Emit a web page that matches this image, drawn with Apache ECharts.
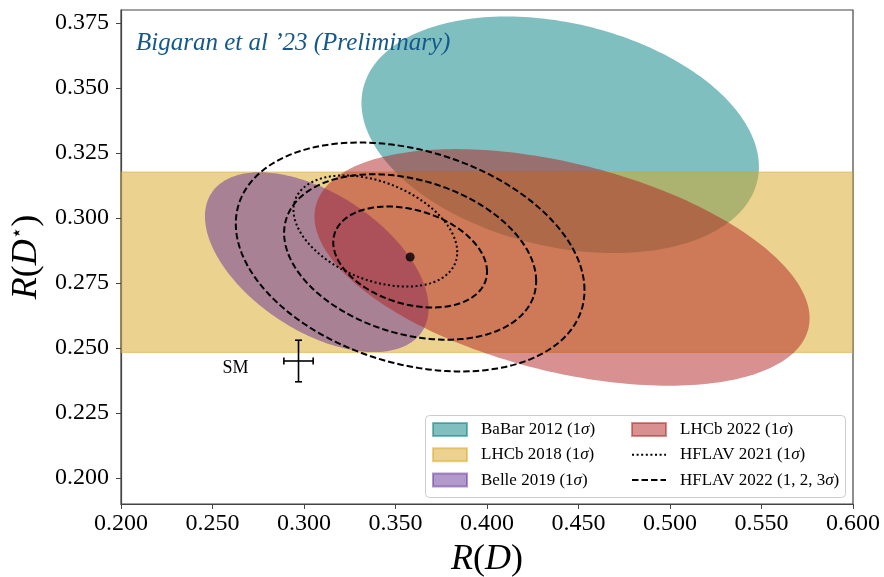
<!DOCTYPE html>
<html>
<head>
<meta charset="utf-8">
<script src="https://cdn.jsdelivr.net/npm/echarts@6/dist/echarts.min.js"></script>
<style>
html,body{margin:0;padding:0;background:#fff;}
#chart{width:884px;height:577px;}
</style>
</head>
<body>
<div id="chart"></div>
<script>
// Axis ranges and ticks
const xRange = [0.2, 0.6];
const yRange = [0.19, 0.38];
const xTicks = [0.2, 0.25, 0.3, 0.35, 0.4, 0.45, 0.5, 0.55, 0.6];
const yTicks = [0.2, 0.225, 0.25, 0.275, 0.3, 0.325, 0.35, 0.375];

// Measurements: [R(D), R(D*), sigma R(D), sigma R(D*), correlation]
const babar2012 = [0.440, 0.332, 0.0716, 0.0300, -0.27];
const belle2019 = [0.307, 0.283, 0.0403, 0.0228, -0.51];
const lhcb2022  = [0.441, 0.281, 0.0892, 0.0300, -0.43];
const hflav2021 = [0.339, 0.295, 0.0295, 0.0141, -0.38];
const hflav2022 = [0.358, 0.285, 0.0277, 0.0128, -0.29];
// LHCb 2018 band in R(D*): [low, high]
const lhcb2018Band = [0.2483, 0.3177];
// Standard Model prediction and its errors
const smPoint = [0.297, 0.245];
const smErr = [0.008, 0.008];
// Delta chi^2 levels for 2D contours (1, 2, 3 sigma)
const chi2Levels = [2.30, 6.18, 11.83];

const SERIF = "'Liberation Serif', 'DejaVu Serif', serif";

function ellipseItem(m, level) {
  return [m[0], m[1], m[2], m[3], m[4], Math.sqrt(level)];
}
function ellipsePoints(api) {
  const cx = api.value(0), cy = api.value(1), sx = api.value(2), sy = api.value(3), rho = api.value(4), k = api.value(5);
  const pts = [];
  const N = 240;
  const s = Math.sqrt(1 - rho * rho);
  for (let i = 0; i <= N; i++) {
    const t = 2 * Math.PI * i / N;
    const c = Math.cos(t), sn = Math.sin(t);
    pts.push(api.coord([cx + k * sx * c, cy + k * sy * (rho * c + s * sn)]));
  }
  return pts;
}
function filledEllipse(fill) {
  return function (params, api) {
    return { type: 'polygon', shape: { points: ellipsePoints(api) }, style: { fill: fill, stroke: null } };
  };
}
function contour(dash, width) {
  return function (params, api) {
    return { type: 'polygon', shape: { points: ellipsePoints(api) }, style: { fill: 'none', stroke: '#000', lineWidth: width, lineDash: dash } };
  };
}

const teal = 'rgba(0,128,128,0.5)';
const gold = 'rgba(218,165,32,0.5)';
const purple = 'rgba(102,51,153,0.5)';
const red = 'rgba(178,34,34,0.5)';
const DASH = [6.5, 3];
const DOT = [2, 2.6];

const names = {
  babar: 'BaBar 2012 (1σ)',
  lhcb18: 'LHCb 2018 (1σ)',
  belle: 'Belle 2019 (1σ)',
  lhcb22: 'LHCb 2022 (1σ)',
  hf21: 'HFLAV 2021 (1σ)',
  hf22: 'HFLAV 2022 (1, 2, 3σ)'
};

const legendText = {
  fontFamily: SERIF, fontSize: 17, color: '#000', lineHeight: 17, padding: [0, 0, 0, 9],
  rich: { s: { fontFamily: SERIF, fontSize: 17, fontStyle: 'italic', color: '#000', lineHeight: 17 } }
};
function legendFormatter(name) {
  return name.replace('σ', '{s|σ}');
}

const chart = echarts.init(document.getElementById('chart'), null, { renderer: 'canvas' });
const option = {
  animation: false,
  title: {
    text: 'Bigaran et al ’23 (Preliminary)',
    left: 136, top: 31, padding: 0,
    textStyle: { fontFamily: SERIF, fontStyle: 'italic', fontWeight: 'normal', fontSize: 25, color: '#14588c' }
  },
  graphic: [{
    type: 'rect', left: 425, top: 415, z: 0,
    shape: { width: 420, height: 82, r: 4 },
    style: { fill: 'rgba(255,255,255,0.8)', stroke: '#cccccc', lineWidth: 1 }
  }],
  legend: [{
    orient: 'vertical', left: 432, top: 421, padding: 0, itemGap: 8.3,
    itemWidth: 34, itemHeight: 13, icon: 'rect',
    data: [names.babar, names.lhcb18, names.belle],
    textStyle: legendText, formatter: legendFormatter, selectedMode: false
  }, {
    orient: 'vertical', left: 631, top: 421, padding: 0, itemGap: 8.3,
    itemWidth: 34, itemHeight: 13,
    data: [{ name: names.lhcb22, icon: 'rect' }, names.hf21, names.hf22],
    textStyle: legendText, formatter: legendFormatter, selectedMode: false
  }],
  grid: { left: 121, right: 31, top: 10, bottom: 73, containLabel: false, outerBoundsMode: 'none',
    show: true, borderColor: '#444', borderWidth: 1.2, backgroundColor: 'transparent' },
  xAxis: {
    type: 'value', min: xRange[0], max: xRange[1], interval: 0.05,
    axisLine: { show: true, lineStyle: { color: '#444', width: 1.2 } },
    axisTick: { show: true, length: 5, lineStyle: { color: '#444', width: 1 } },
    splitLine: { show: false },
    axisLabel: { show: true, margin: 8, fontFamily: SERIF, fontSize: 24, color: '#000', showMinLabel: true, showMaxLabel: true,
      formatter: v => v.toFixed(3) },
    name: '{i|R}{p|(}{i|D}{p|)}', nameLocation: 'middle', nameGap: 38,
    nameTextStyle: { rich: { i: { fontFamily: SERIF, fontStyle: 'italic', fontSize: 36, color: '#000' }, p: { fontFamily: SERIF, fontSize: 36, color: '#000' } } }
  },
  yAxis: {
    type: 'value', min: yRange[0], max: yRange[1],
    axisLine: { show: true, lineStyle: { color: '#444', width: 1.2 } },
    axisTick: { show: true, length: 5, customValues: yTicks, lineStyle: { color: '#444', width: 1 } },
    splitLine: { show: false },
    axisLabel: { show: true, margin: 12, fontFamily: SERIF, fontSize: 24, color: '#000', customValues: yTicks,
      formatter: v => v.toFixed(3) },
    name: '{i|R}{p|(}{i|D}{s|⋆}{p|)}', nameLocation: 'middle', nameRotate: 90, nameGap: 73,
    nameTextStyle: { rich: {
      i: { fontFamily: SERIF, fontStyle: 'italic', fontSize: 36, color: '#000' },
      p: { fontFamily: SERIF, fontSize: 36, color: '#000' },
      s: { fontFamily: "'DejaVu Sans', sans-serif", fontSize: 20, color: '#000', padding: [0, 0, 16, 0] }
    } }
  },
  series: [
    { name: names.hf21, type: 'line', data: [], symbol: 'none', itemStyle: { color: 'rgba(0,0,0,0)', borderColor: 'rgba(0,0,0,0)' },
      lineStyle: { color: '#000', width: 2, type: DOT } },
    { name: names.hf22, type: 'line', data: [], symbol: 'none', itemStyle: { color: 'rgba(0,0,0,0)', borderColor: 'rgba(0,0,0,0)' },
      lineStyle: { color: '#000', width: 2, type: DASH } },
    {
      name: names.babar, type: 'custom', renderItem: filledEllipse(teal),
      itemStyle: { color: teal, borderColor: teal, borderWidth: 1.5 },
      encode: { x: 0, y: 1 }, data: [ellipseItem(babar2012, chi2Levels[0])], clip: true, z: 2
    },
    {
      name: names.lhcb18, type: 'custom',
      renderItem: function (params, api) {
        const p1 = api.coord([api.value(0), api.value(3)]);
        const p2 = api.coord([api.value(2), api.value(1)]);
        return { type: 'rect', shape: { x: p1[0], y: p1[1], width: p2[0] - p1[0], height: p2[1] - p1[1] },
          style: { fill: gold, stroke: gold, lineWidth: 1 } };
      },
      itemStyle: { color: gold, borderColor: gold, borderWidth: 1.5 },
      encode: { x: [0, 2], y: [1, 3] }, data: [[xRange[0], lhcb2018Band[0], xRange[1], lhcb2018Band[1]]], clip: true, z: 2
    },
    {
      name: names.belle, type: 'custom', renderItem: filledEllipse(purple),
      itemStyle: { color: purple, borderColor: purple, borderWidth: 1.5 },
      encode: { x: 0, y: 1 }, data: [ellipseItem(belle2019, chi2Levels[0])], clip: true, z: 2
    },
    {
      name: names.lhcb22, type: 'custom', renderItem: filledEllipse(red),
      itemStyle: { color: red, borderColor: red, borderWidth: 1.5 },
      encode: { x: 0, y: 1 }, data: [ellipseItem(lhcb2022, chi2Levels[0])], clip: true, z: 2
    },
    {
      name: names.hf21, type: 'custom', renderItem: contour(DOT, 2),
      encode: { x: 0, y: 1 }, data: [ellipseItem(hflav2021, chi2Levels[0])], clip: true, z: 3
    },
    {
      name: names.hf22, type: 'custom', renderItem: contour(DASH, 2),
      encode: { x: 0, y: 1 }, data: chi2Levels.map(l => ellipseItem(hflav2022, l)), clip: true, z: 3
    },
    {
      name: 'HFLAV 2022 central', type: 'scatter', symbol: 'circle', symbolSize: 9,
      itemStyle: { color: '#000' }, data: [[hflav2022[0], hflav2022[1]]], z: 4, silent: true
    },
    {
      name: 'SM', type: 'custom', z: 4, silent: true,
      encode: { x: 0, y: 1 },
      data: [[smPoint[0], smPoint[1], smErr[0], smErr[1]]],
      renderItem: function (params, api) {
        const x = api.value(0), y = api.value(1), ex = api.value(2), ey = api.value(3);
        const c = api.coord([x, y]);
        const l = api.coord([x - ex, y]), r = api.coord([x + ex, y]);
        const t = api.coord([x, y + ey]), b = api.coord([x, y - ey]);
        const cap = 3.5;
        const st = { stroke: '#000', lineWidth: 1.6 };
        return { type: 'group', children: [
          { type: 'line', shape: { x1: l[0], y1: l[1], x2: r[0], y2: r[1] }, style: st },
          { type: 'line', shape: { x1: t[0], y1: t[1], x2: b[0], y2: b[1] }, style: st },
          { type: 'line', shape: { x1: l[0], y1: l[1] - cap, x2: l[0], y2: l[1] + cap }, style: st },
          { type: 'line', shape: { x1: r[0], y1: r[1] - cap, x2: r[0], y2: r[1] + cap }, style: st },
          { type: 'line', shape: { x1: t[0] - cap, y1: t[1], x2: t[0] + cap, y2: t[1] }, style: st },
          { type: 'line', shape: { x1: b[0] - cap, y1: b[1], x2: b[0] + cap, y2: b[1] }, style: st },
          { type: 'text', style: { text: 'SM', x: c[0] - 50, y: c[1] + 7, align: 'right', verticalAlign: 'middle',
            fontFamily: SERIF, fontSize: 18, fill: '#000' } }
        ] };
      }
    }
  ]
};
chart.setOption(option);
</script>
</body>
</html>
